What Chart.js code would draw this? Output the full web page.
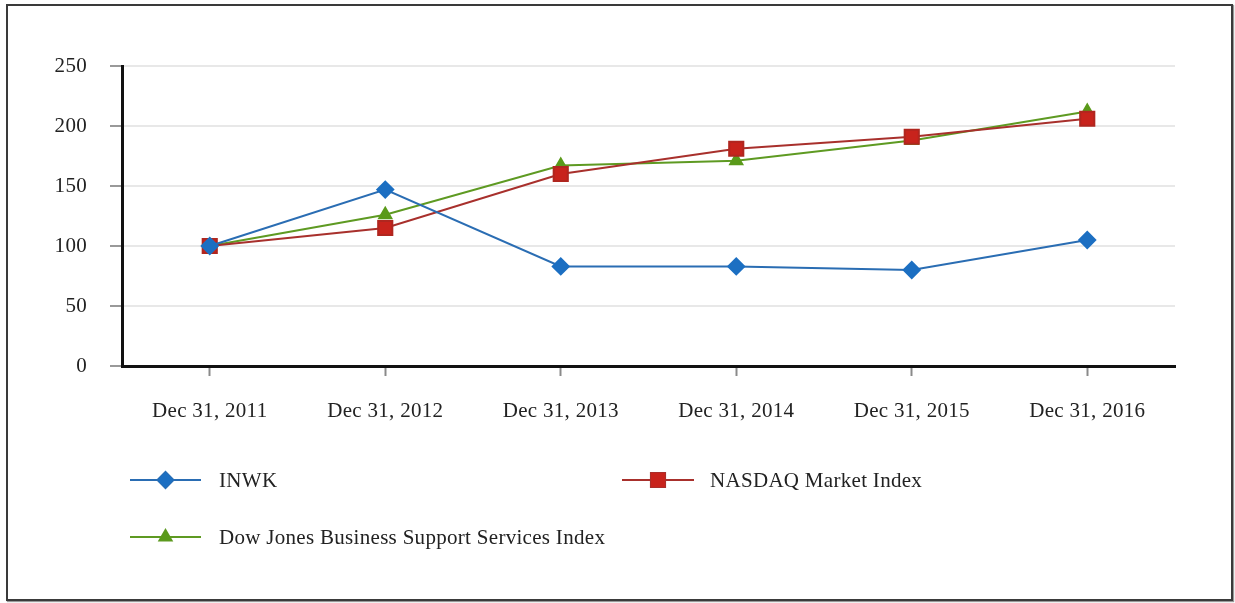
<!DOCTYPE html>
<html>
<head>
<meta charset="utf-8">
<script src="https://cdn.jsdelivr.net/npm/chart.js@4"></script>
<style>
  html, body { margin: 0; padding: 0; background: #fff; }
  #wrap { position: relative; width: 1235px; height: 603px; }
  #frame { position: absolute; left: 6px; top: 4px; width: 1223px; height: 593px; border: 2px solid #3a3a3a; box-shadow: 1px 1px 1px #999; pointer-events: none; }
  canvas { position: absolute; left: 0; top: 0; }
</style>
</head>
<body>
<div id="wrap">
  <canvas id="c" width="1235" height="603"></canvas>
  <div id="frame"></div>
</div>
<script>
const categories = ["Dec 31, 2011", "Dec 31, 2012", "Dec 31, 2013", "Dec 31, 2014", "Dec 31, 2015", "Dec 31, 2016"];
const inwk   = [100, 147, 83, 83, 80, 105];
const nasdaq = [100, 115, 160, 181, 191, 206];
const dowJones = [100, 126, 167, 171, 188, 212];
const yTicks = [0, 50, 100, 150, 200, 250];
const seriesNames = ["INWK", "NASDAQ Market Index", "Dow Jones Business Support Services Index"];

const FONT = "'Liberation Serif', 'Times New Roman', serif";
const FSIZE = 21;

const spacingPlugin = {
  id: 'spacing',
  beforeDraw(chart) {
    if ('letterSpacing' in chart.ctx) chart.ctx.letterSpacing = '0.3px';
  }
};

const legendPlugin = {
  id: 'customLegend',
  afterDraw(chart) {
    const ctx = chart.ctx;
    const spots = [
      { x1: 130, x2: 201, tx: 219, y: 480 },
      { x1: 622, x2: 694, tx: 710, y: 480 },
      { x1: 130, x2: 201, tx: 219, y: 537 }
    ];
    chart.data.datasets.forEach((ds, i) => {
      const s = spots[i];
      ctx.save();
      ctx.strokeStyle = ds.borderColor;
      ctx.lineWidth = 2;
      ctx.beginPath();
      ctx.moveTo(s.x1, s.y);
      ctx.lineTo(s.x2, s.y);
      ctx.stroke();
      Chart.helpers.drawPoint(ctx, {
        pointStyle: ds.pointStyle,
        radius: ds.pointRadius,
        borderWidth: 1,
        rotation: 0
      }, (s.x1 + s.x2) / 2, s.y);
      ctx.fillStyle = ds.pointBackgroundColor;
      ctx.fill();
      ctx.fillStyle = '#222';
      ctx.font = FSIZE + 'px ' + FONT;
      ctx.textBaseline = 'middle';
      ctx.textAlign = 'left';
      ctx.fillText(ds.label, s.tx, s.y + 1);
      ctx.restore();
    });
  }
};

new Chart(document.getElementById('c'), {
  type: 'line',
  data: {
    labels: categories,
    datasets: [
      {
        label: seriesNames[0], data: inwk,
        borderColor: '#2a6db3', backgroundColor: '#1c6fc2',
        pointBackgroundColor: '#1c6fc2', pointBorderColor: '#1c6fc2',
        pointStyle: 'rectRot', pointRadius: 8, pointHoverRadius: 8,
        borderWidth: 2, tension: 0
      },
      {
        label: seriesNames[1], data: nasdaq,
        borderColor: '#a8302c', backgroundColor: '#c8231c',
        pointBackgroundColor: '#c8231c', pointBorderColor: '#b0261f',
        pointStyle: 'rect', pointRadius: 10, pointHoverRadius: 10,
        borderWidth: 2, tension: 0
      },
      {
        label: seriesNames[2], data: dowJones,
        borderColor: '#5e9a22', backgroundColor: '#5a9a1a',
        pointBackgroundColor: '#5a9a1a', pointBorderColor: '#5a9a1a',
        pointStyle: 'triangle', pointRadius: 7, pointHoverRadius: 7,
        borderWidth: 2, tension: 0
      }
    ]
  },
  options: {
    responsive: false,
    animation: false,
    layout: { padding: { left: 0, top: 66, right: 60, bottom: 177 } },
    plugins: { legend: { display: false }, tooltip: { enabled: false } },
    scales: {
      x: {
        offset: true,
        grid: { drawOnChartArea: false, drawTicks: true, tickLength: 10, tickColor: '#8a8a8a', tickWidth: 2 },
        border: { color: '#111', width: 3 },
        ticks: { color: '#222', font: { family: FONT, size: FSIZE }, padding: 23, maxRotation: 0 },
        afterFit(scale) { scale.height = 60; }
      },
      y: {
        min: 0, max: 250,
        afterBuildTicks(scale) { scale.ticks = yTicks.map(v => ({ value: v })); },
        grid: { color: '#e8e8e8', lineWidth: 2, tickLength: 12, tickColor: '#999', tickWidth: 2 },
        border: { color: '#111', width: 3 },
        ticks: { color: '#222', font: { family: FONT, size: FSIZE }, padding: 23 },
        afterFit(scale) { scale.width = 122; }
      }
    }
  },
  plugins: [spacingPlugin, legendPlugin]
});
</script>
</body>
</html>
